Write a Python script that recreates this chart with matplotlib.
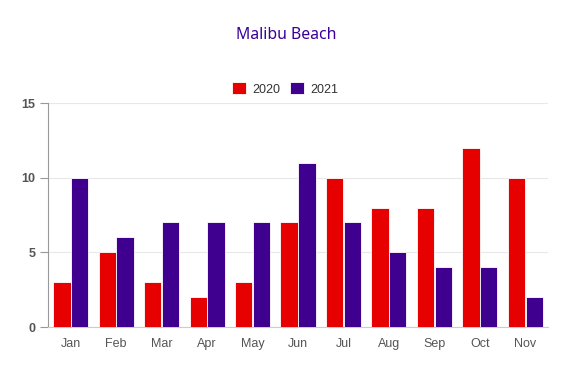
import matplotlib

matplotlib.use("Agg")
import matplotlib.pyplot as plt  # noqa: E402
import numpy as np  # noqa: E402

months = ["Jan", "Feb", "Mar", "Apr", "May", "Jun", "Jul", "Aug", "Sep", "Oct", "Nov"]
y2020 = [3, 5, 3, 2, 3, 7, 10, 8, 8, 12, 10]
y2021 = [10, 6, 7, 7, 7, 11, 7, 5, 4, 4, 2]
yticks = [0, 5, 10, 15]

RED = "#e60000"
PURPLE = "#40008f"

fig = plt.figure(figsize=(5.74, 3.74), dpi=100)
ax = fig.add_axes([48 / 574, 47 / 374, 500 / 574, 224 / 374])

x = np.arange(len(months))
w = 0.38
ax.bar(x - w / 2 - 0.005, y2020, width=w, color=RED, edgecolor="white", linewidth=0.6, label="2020", zorder=3)
ax.bar(x + w / 2 + 0.005, y2021, width=w, color=PURPLE, edgecolor="white", linewidth=0.6, label="2021", zorder=3)

ax.set_xlim(-0.5, len(months) - 0.5)
ax.set_ylim(0, 15)
ax.set_yticks(yticks)
ax.set_xticks(x)
ax.set_xticklabels(months, fontsize=9, color="#555555", family="Liberation Sans")
ax.set_yticklabels([str(v) for v in yticks], fontsize=9, color="#555555", fontweight="bold",
                   family="Liberation Sans")
ax.grid(axis="y", color="#e8e8e8", linewidth=0.8, zorder=0)
for s in ["top", "right"]:
    ax.spines[s].set_visible(False)
ax.spines["left"].set_color("#999999")
ax.spines["bottom"].set_color("#cccccc")
ax.tick_params(axis="y", length=6, color="#999999", pad=3)
ax.tick_params(axis="x", length=0, pad=8)

fig.text(286 / 574, 1 - 35 / 374, "Malibu Beach", ha="center", va="center", fontsize=11.4,
         color="#3a0099", family="Noto Sans")

leg = fig.legend(loc="center", bbox_to_anchor=(285 / 574, 1 - 89 / 374), ncol=2, frameon=False,
                 handlelength=1.1, handleheight=1.1, handletextpad=0.5, columnspacing=0.8,
                 prop={"family": "Liberation Sans", "size": 9})
for t in leg.get_texts():
    t.set_color("#333333")

fig.savefig("out.png", dpi=100)
